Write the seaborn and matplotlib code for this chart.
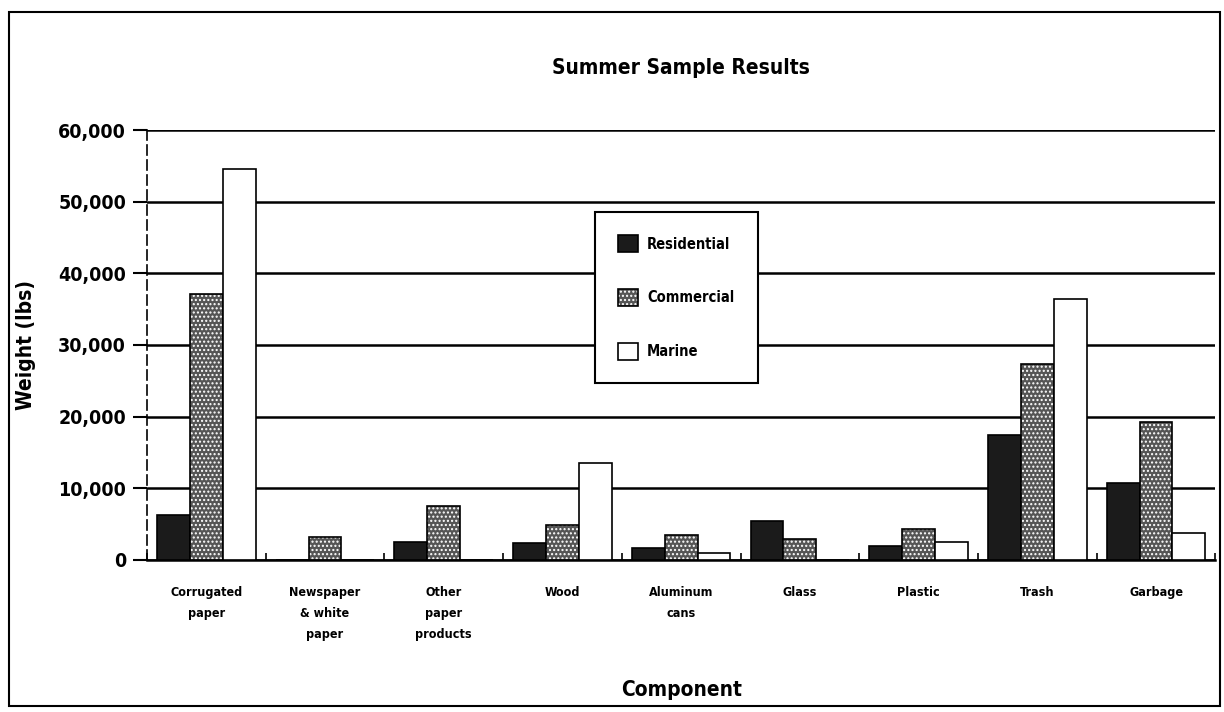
import matplotlib
matplotlib.use("Agg")
import matplotlib.pyplot as plt
from matplotlib.patches import Rectangle
from matplotlib.ticker import FuncFormatter, MultipleLocator
import seaborn as sns
import pandas as pd

# Summer sample weights (lbs) by component and source sector
components = [
    "Corrugated\npaper", "Newspaper\n& white\npaper", "Other\npaper\nproducts",
    "Wood", "Aluminum\ncans", "Glass", "Plastic", "Trash", "Garbage",
]
residential = [6300, 0, 2500, 2400, 1700, 5500, 1900, 17500, 10800]
commercial = [37100, 3200, 7600, 4900, 3500, 2900, 4300, 27400, 19300]
marine = [54500, 0, 0, 13500, 1000, 0, 2500, 36400, 3800]
sectors = ["Residential", "Commercial", "Marine"]

df = pd.DataFrame({
    "Component": components * 3,
    "Weight": residential + commercial + marine,
    "Sector": [s for s in sectors for _ in components],
})

sns.set_theme(style="white")
plt.rcParams["font.family"] = ["DejaVu Sans"]
plt.rcParams["font.stretch"] = "condensed"
plt.rcParams["font.weight"] = "bold"

fig = plt.figure(figsize=(12.24, 7.12), dpi=100)
ax = fig.add_axes([0.120, 0.2135, 0.873, 0.6039])

palette = {"Residential": "#1b1b1b", "Commercial": "#555555", "Marine": "#ffffff"}
sns.barplot(data=df, x="Component", y="Weight", hue="Sector", palette=palette,
            saturation=1, width=0.83, edgecolor="black", linewidth=1.2,
            legend=False, ax=ax, zorder=3)

# stippled fill for the commercial series
for patch in ax.containers[1].patches:
    patch.set_hatch("....")
    patch._hatch_color = (1, 1, 1, 1)

ax.set_ylim(0, 60000)
ax.set_xlim(-0.45, 8.45)
ax.yaxis.set_major_locator(MultipleLocator(10000))
ax.yaxis.set_major_formatter(FuncFormatter(lambda v, _: f"{v:,.0f}"))
ax.grid(axis="y", color="black", linewidth=1.8, zorder=1)
ax.set_axisbelow(True)

for side in ("top", "right"):
    ax.spines[side].set_visible(False)
ax.spines["bottom"].set_color("black")
ax.spines["bottom"].set_linewidth(1.8)
ax.spines["left"].set_color("black")
ax.spines["left"].set_linewidth(1.2)
ax.spines["left"].set_linestyle((0, (6, 3)))

ax.tick_params(axis="y", direction="out", length=10, width=1.5, color="black",
               labelsize=14, pad=5, left=True)
ax.tick_params(axis="x", which="major", length=0, pad=19, labelsize=9)
ax.set_xticks([i + 0.5 for i in range(-1, 9)], minor=True)
ax.tick_params(axis="x", which="minor", direction="in", length=5, width=1.2,
               color="black", bottom=True)
for lab in ax.get_xticklabels():
    lab.set_linespacing(1.8)
    lab.set_verticalalignment("top")
for lab in ax.get_xticklabels() + ax.get_yticklabels():
    lab.set_fontweight("bold")
    lab.set_color("black")

ax.set_xlabel("Component", fontsize=15, fontweight="bold", labelpad=28, color="black")
ax.set_ylabel("Weight (lbs)", fontsize=15, fontweight="bold", labelpad=16, color="black")
fig.text(0.556, 0.904, "Summer Sample Results", ha="center", va="center",
         fontsize=15, fontweight="bold", color="black")

handles = [c.patches[0] for c in ax.containers]
leg = ax.legend(handles, sectors, loc="upper left", bbox_to_anchor=(0.4195, 0.809),
                frameon=True, fancybox=False, framealpha=1, edgecolor="black",
                fontsize=10.5, labelspacing=2.55, handlelength=1.37, handleheight=1.37,
                borderpad=1.6, handletextpad=0.6, borderaxespad=0)
leg.get_frame().set_linewidth(1.5)
leg.set_zorder(5)
for t in leg.get_texts():
    t.set_fontweight("bold")
    t.set_color("black")

# page border
fig.patches.append(Rectangle((0.007, 0.008), 0.990, 0.975, transform=fig.transFigure,
                             fill=False, edgecolor="black", linewidth=1.5))

fig.savefig("out.png", dpi=100)
